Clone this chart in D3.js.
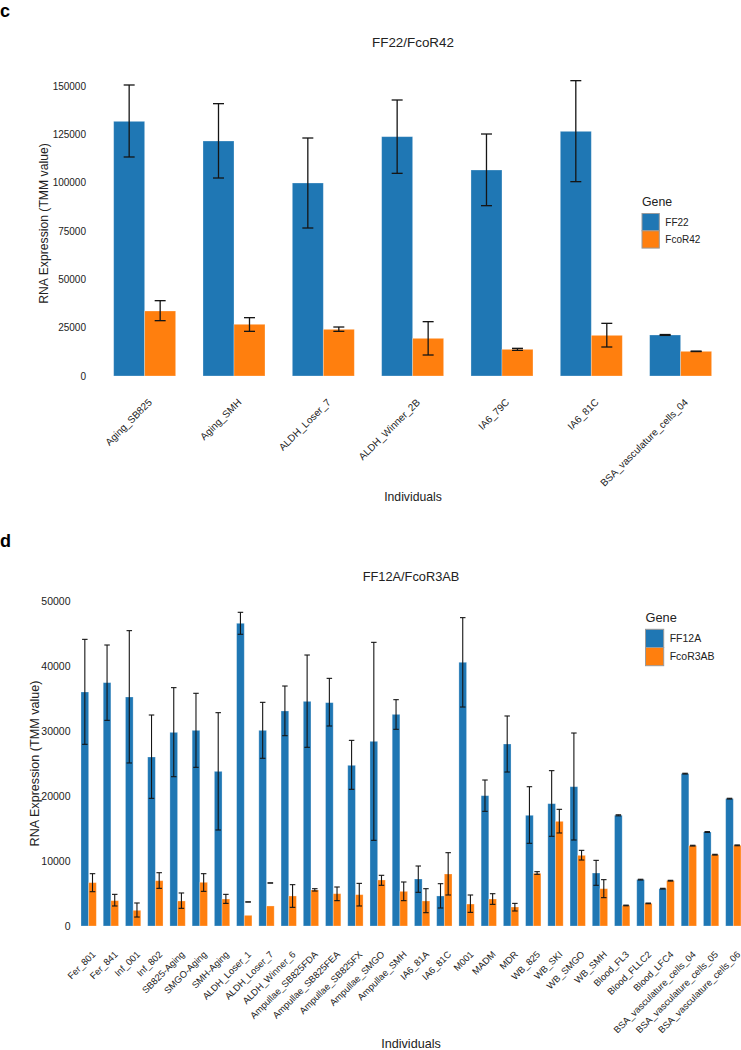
<!DOCTYPE html>
<html>
<head>
<meta charset="utf-8">
<script src="https://cdn.jsdelivr.net/npm/d3@7"></script>
<style>
  body { margin: 0; background: #fff; }
  svg { display: block; font-family: "Liberation Sans", Arial, Helvetica, sans-serif; }
</style>
</head>
<body>
<svg id="chart" width="741" height="1050"></svg>
<script>
// ---------- Panel c data ----------
const catsC = ["Aging_SB825", "Aging_SMH", "ALDH_Loser_7", "ALDH_Winner_2B", "IA6_79C", "IA6_81C", "BSA_vasculature_cells_04"];
const genesC = ["FF22", "FcoR42"];
const ff22 = [131720, 121550, 99830, 123790, 106550, 126550, 21210];
const ff22Lo = [113280, 102410, 76550, 104830, 88100, 100520, 21000];
const ff22Hi = [150520, 140860, 123100, 142760, 125170, 152760, 21450];
const fcor42 = [33620, 26740, 24140, 19480, 13790, 21030, 12760];
const fcor42Lo = [28620, 23100, 23100, 10860, 13280, 15000, 12650];
const fcor42Hi = [38960, 30170, 25340, 28100, 14310, 27240, 12870];
const ticksC = [0, 25000, 50000, 75000, 100000, 125000, 150000];

// ---------- Panel d data ----------
const catsD = ["Fer_801", "Fer_841", "Inf_001", "Inf_802", "SB825-Aging", "SMGO-Aging", "SMH-Aging",
  "ALDH_Loser_1", "ALDH_Loser_7", "ALDH_Winner_6", "Ampullae_SB825FDA", "Ampullae_SB825FEA",
  "Ampullae_SB825FX", "Ampullae_SMGO", "Ampullae_SMH", "IA6_81A", "IA6_81C", "M001", "MADM", "MDR",
  "WB_825", "WB_SKI", "WB_SMGO", "WB_SMH", "Blood_FL3", "Blood_FLLC2", "Blood_LFC4",
  "BSA_vasculature_cells_04", "BSA_vasculature_cells_05", "BSA_vasculature_cells_06"];
const genesD = ["FF12A", "FcoR3AB"];
const ff12a = [36000, 37440, 35230, 26000, 29790, 30100, 23790, 46570, 30100, 33080, 34560, 34360, 24720, 28410, 32560, 7230, 4620, 40570, 20050, 28000, 17030, 18820, 21430, 8150, 17030, 7130, 5740, 23440, 14460, 19590];
const ff12aLo = [27950, 31640, 25080, 19640, 22970, 24410, 14770, 44880, 25800, 29280, 27490, 30770, 21030, 13180, 30260, 5180, 2770, 33690, 17640, 23690, 12720, 13800, 13230, 6260, 16950, 7070, 5680, 23380, 14400, 19530];
const ff12aHi = [44100, 43230, 45440, 32460, 36670, 35800, 32820, 48260, 34410, 36920, 41690, 38100, 28560, 43640, 34820, 9230, 6510, 47440, 22460, 32310, 21430, 23900, 29690, 10100, 17110, 7190, 5800, 23500, 14520, 19650];
const fcor3ab = [6670, 3900, 2410, 6970, 3850, 6720, 4150, 1640, 3080, 4620, 5540, 4970, 4820, 7080, 5330, 3850, 8000, 3380, 4150, 2920, 8100, 16100, 10870, 5740, 3160, 3480, 6970, 12360, 10970, 12410];
const fcor3abLo = [5280, 3080, 1380, 5790, 2720, 5330, 3480, 3700, 6620, 2870, 5380, 3900, 3080, 6260, 3900, 2050, 4770, 2100, 3330, 2310, 7950, 14310, 10150, 4360, 3110, 3430, 6910, 12300, 10910, 12350];
const fcor3abHi = [8050, 4870, 3540, 8200, 5080, 8050, 4870, 3700, 6620, 6360, 5740, 6000, 6560, 7800, 6770, 5740, 11280, 4770, 4970, 3480, 8360, 17950, 11640, 7130, 3210, 3530, 7030, 12420, 11030, 12470];
const ticksD = [0, 10000, 20000, 30000, 40000, 50000];

const colors = ["#1f77b4", "#ff7f0e"];
const svg = d3.select("#chart");
svg.append("rect").attr("width", 741).attr("height", 1050).attr("fill", "#fff");

function panel(cfg) {
  const g = svg.append("g");
  const x = d3.scaleBand().domain(cfg.cats).range(cfg.xRange)
    .paddingInner(cfg.padIn).paddingOuter(cfg.padIn / 2);
  const xs = d3.scaleBand().domain(cfg.genes).range([0, x.bandwidth()]).padding(0);
  const y = d3.scaleLinear().domain(cfg.yDomain).range(cfg.yRange);

  const rows = cfg.cats.map((c, i) => ({
    cat: c,
    vals: cfg.genes.map((gname, j) => ({
      gene: gname, j,
      v: cfg.series[j][i], lo: cfg.lo[j][i], hi: cfg.hi[j][i]
    }))
  }));

  const grp = g.selectAll("g.grp").data(rows).join("g")
    .attr("transform", d => `translate(${x(d.cat)},0)`);
  grp.selectAll("rect").data(d => d.vals).join("rect")
    .attr("x", d => xs(d.gene))
    .attr("y", d => y(d.v))
    .attr("width", xs.bandwidth())
    .attr("height", d => y(0) - y(d.v))
    .attr("fill", d => colors[d.j])
    .attr("stroke", "#ffffff").attr("stroke-opacity", 0.35).attr("stroke-width", 0.8);

  const eb = grp.selectAll("g.eb").data(d => d.vals).join("g")
    .attr("transform", d => `translate(${xs(d.gene) + xs.bandwidth() / 2},0)`)
    .attr("stroke", "#151515").attr("stroke-width", cfg.ebw);
  eb.append("line").attr("x1", 0).attr("x2", 0)
    .attr("y1", d => y(d.lo)).attr("y2", d => y(d.hi));
  eb.append("line").attr("x1", -cfg.cap / 2).attr("x2", cfg.cap / 2)
    .attr("y1", d => y(d.hi)).attr("y2", d => y(d.hi));
  eb.append("line").attr("x1", -cfg.cap / 2).attr("x2", cfg.cap / 2)
    .attr("y1", d => y(d.lo)).attr("y2", d => y(d.lo));

  // y axis
  const ya = g.append("g").attr("transform", `translate(${cfg.yAxisX},0)`)
    .call(d3.axisLeft(y).tickValues(cfg.ticks).tickSize(0).tickPadding(0).tickFormat(d3.format("d")));
  ya.select(".domain").remove();
  ya.selectAll("text").attr("font-size", cfg.yTickFont).attr("fill", "#222")
    .attr("font-family", '"Liberation Sans", Arial, sans-serif');

  // x axis
  const xa = g.append("g").attr("transform", `translate(0,${cfg.xLabY})`)
    .call(d3.axisBottom(x).tickSize(0));
  xa.select(".domain").remove();
  xa.selectAll("text").attr("x", 0).attr("y", 0).attr("dy", 0)
    .attr("text-anchor", "end")
    .attr("transform", `translate(${cfg.xLabDx},0) rotate(-45)`)
    .attr("font-size", cfg.xTickFont).attr("fill", "#222")
    .attr("font-family", '"Liberation Sans", Arial, sans-serif');

  // titles
  g.append("text").attr("x", cfg.titleX).attr("y", cfg.titleY).attr("text-anchor", "middle")
    .attr("font-size", cfg.titleFont).attr("fill", "#222").text(cfg.title);
  g.append("text").attr("x", cfg.titleX).attr("y", cfg.xTitleY).attr("text-anchor", "middle")
    .attr("font-size", cfg.axisTitleFont).attr("fill", "#222").text("Individuals");
  g.append("text").attr("transform", `translate(${cfg.yTitleX},${cfg.yTitleY}) rotate(-90)`)
    .attr("text-anchor", "middle").attr("font-size", cfg.axisTitleFont).attr("fill", "#222")
    .text("RNA Expression (TMM value)");
  g.append("text").attr("x", 0).attr("y", cfg.letterY).attr("font-size", 18)
    .attr("font-weight", "bold").attr("fill", "#000").text(cfg.letter);

  // legend
  const lg = g.append("g").attr("transform", `translate(${cfg.legX},${cfg.legY})`);
  lg.append("text").attr("x", 0).attr("y", 0).attr("font-size", cfg.legTitleFont)
    .attr("fill", "#222").text("Gene");
  cfg.genes.forEach((gname, j) => {
    lg.append("rect").attr("x", 0).attr("y", cfg.legSwY + j * cfg.legSw)
      .attr("width", cfg.legSw).attr("height", cfg.legSw)
      .attr("fill", colors[j]).attr("stroke", "#9a9a9a").attr("stroke-width", 1);
    lg.append("text").attr("x", cfg.legSw + 6).attr("y", cfg.legSwY + j * cfg.legSw + cfg.legSw / 2)
      .attr("dy", "0.35em").attr("font-size", cfg.legFont).attr("fill", "#222").text(gname);
  });
}

panel({
  cats: catsC, genes: genesC,
  series: [ff22, fcor42], lo: [ff22Lo, fcor42Lo], hi: [ff22Hi, fcor42Hi],
  xRange: [100, 725.3], padIn: 0.306,
  yDomain: [0, 150000], yRange: [376, 86], ticks: ticksC,
  ebw: 1.3, cap: 11,
  yAxisX: 86, yTickFont: 10, xLabY: 403, xLabDx: 8, xTickFont: 10,
  title: "FF22/FcoR42", titleX: 413, titleY: 47, titleFont: 13.4,
  xTitleY: 501, axisTitleFont: 12.2, yTitleX: 48, yTitleY: 223.5,
  letter: "c", letterY: 16.5,
  legX: 642, legY: 206, legSwY: 7.5, legSw: 17.3, legTitleFont: 12.3, legFont: 10
});

panel({
  cats: catsD, genes: genesD,
  series: [ff12a, fcor3ab], lo: [ff12aLo, fcor3abLo], hi: [ff12aHi, fcor3abHi],
  xRange: [77.55, 744.45], padIn: 0.31,
  yDomain: [0, 50000], yRange: [926, 601], ticks: ticksD,
  ebw: 1.1, cap: 5.5,
  yAxisX: 70.5, yTickFont: 10.5, xLabY: 955, xLabDx: 7.5, xTickFont: 9.4,
  title: "FF12A/FcoR3AB", titleX: 411, titleY: 581, titleFont: 12.8,
  xTitleY: 1047.5, axisTitleFont: 12.6, yTitleX: 38.5, yTitleY: 763.5,
  letter: "d", letterY: 546.5,
  legX: 645.5, legY: 622, legSwY: 7.3, legSw: 18.2, legTitleFont: 12.8, legFont: 10.5
});
</script>
</body>
</html>
